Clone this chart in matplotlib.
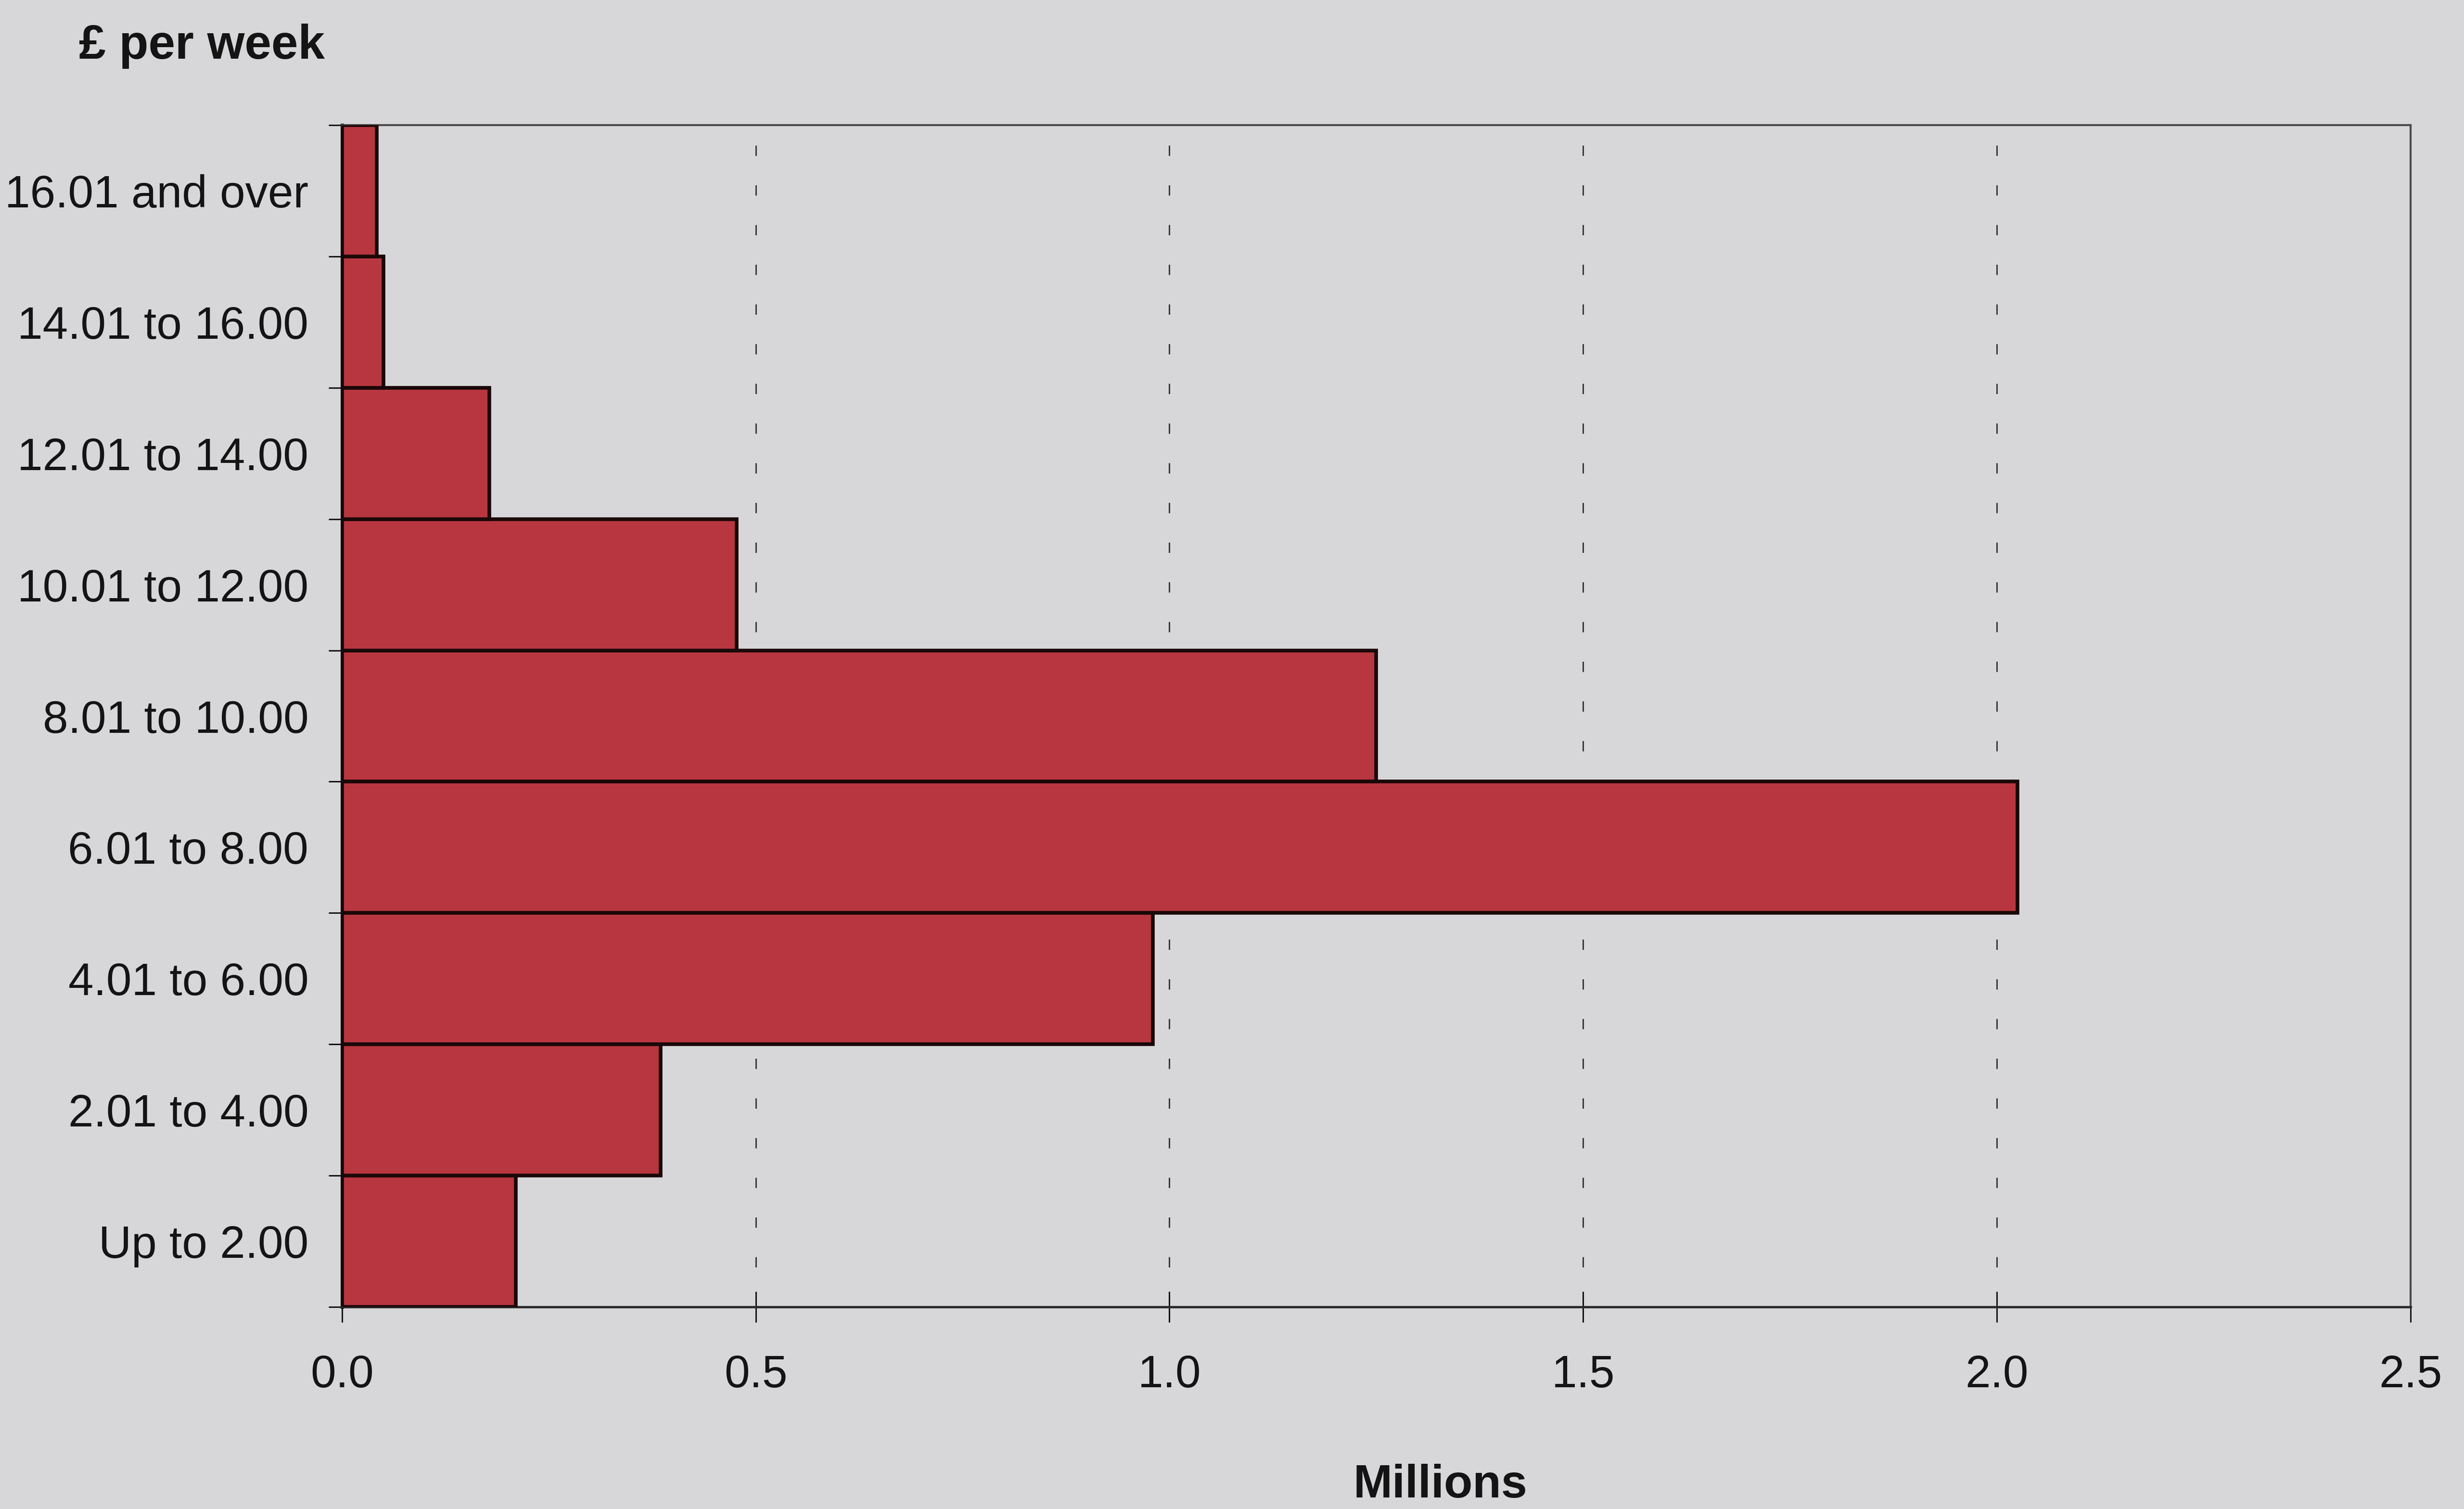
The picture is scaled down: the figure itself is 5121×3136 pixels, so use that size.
import matplotlib
matplotlib.use("Agg")
import matplotlib.pyplot as plt

# Weekly amount bands (bottom to top) and number of recipients, millions
bands = ["Up to 2.00", "2.01 to 4.00", "4.01 to 6.00", "6.01 to 8.00",
         "8.01 to 10.00", "10.01 to 12.00", "12.01 to 14.00",
         "14.01 to 16.00", "16.01 and over"]
millions = [0.21, 0.385, 0.98, 2.025, 1.25, 0.477, 0.178, 0.05, 0.042]
xticks = [0.0, 0.5, 1.0, 1.5, 2.0, 2.5]

plt.rcParams['font.family'] = ['Liberation Sans', 'DejaVu Sans']

paper = '#D7D7DA'
bar_red = '#B8363F'
ink = '#141414'

fig = plt.figure(figsize=(51.21, 31.36), dpi=100, facecolor=paper)
ax = fig.add_axes([0.1388, 0.134, 0.8395, 0.783])
ax.set_facecolor('none')

ypos = list(range(len(bands)))
ax.barh(ypos, millions, height=1.0, align='edge', color=bar_red,
        edgecolor='#1a0808', linewidth=5.5, zorder=3)

ax.set_xlim(xticks[0], xticks[-1])
ax.set_ylim(0, len(bands))

# dashed vertical gridlines behind the bars
for x in xticks[1:-1]:
    ax.axvline(x, color='#3a3a3a', lw=2.2, dashes=(7, 20), zorder=1)

# x axis
ax.set_xticks(xticks)
ax.set_xticklabels([f"{v:.1f}" for v in xticks])
ax.tick_params(axis='x', direction='inout', length=46, width=2.2,
               pad=48, labelsize=68, color=ink, labelcolor=ink)

# y axis: ticks on band edges, labels in band centres
ax.set_yticks(range(len(bands) + 1))
ax.set_yticklabels([])
ax.set_yticks([i + 0.5 for i in ypos], minor=True)
ax.set_yticklabels(bands, minor=True)
ax.tick_params(axis='y', which='major', direction='out', length=20,
               width=2.2, color=ink)
ax.tick_params(axis='y', which='minor', length=0, pad=50,
               labelsize=68, labelcolor=ink)

ax.spines['left'].set_color('#100808')
ax.spines['left'].set_linewidth(5)
ax.spines['bottom'].set_color('#2a2a2a')
ax.spines['bottom'].set_linewidth(3.5)
for side in ('top', 'right'):
    ax.spines[side].set_color('#4a4a4a')
    ax.spines[side].set_linewidth(3)

fig.text(164 / 5121, 1 - 122 / 3136, "£ per week", ha='left',
         va='baseline', fontsize=72, fontweight='bold', color=ink)
fig.text(2993 / 5121, 1 - 3112 / 3136, "Millions", ha='center',
         va='baseline', fontsize=70, fontweight='bold', color=ink)

fig.savefig('out.png', dpi=100, facecolor=paper)
